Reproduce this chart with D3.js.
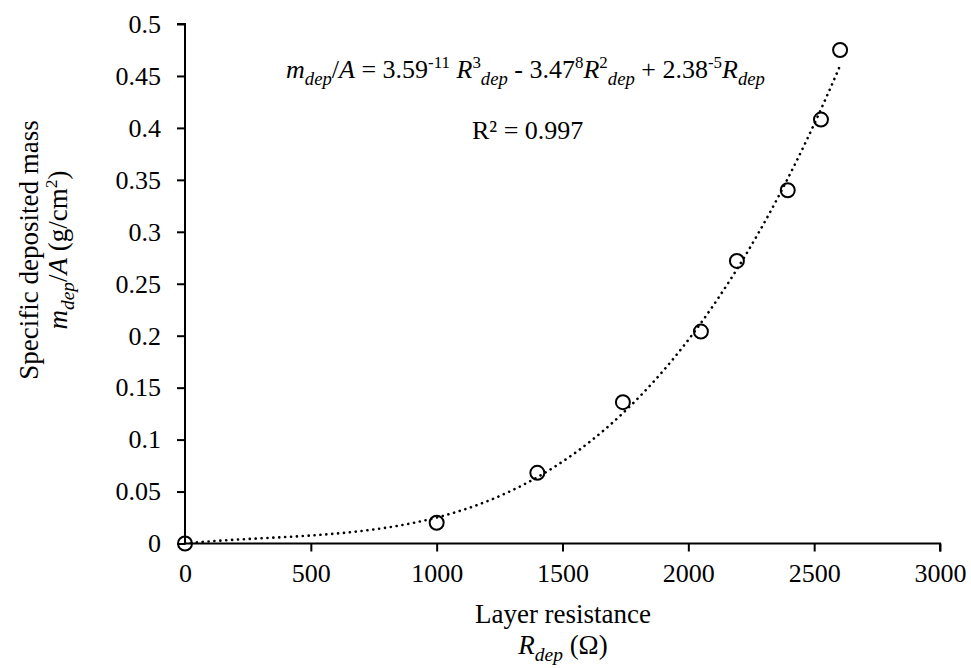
<!DOCTYPE html>
<html>
<head>
<meta charset="utf-8">
<script src="https://cdn.jsdelivr.net/npm/d3@7"></script>
<style>
  html, body { margin: 0; padding: 0; background: #fff; }
  svg { display: block; }
  svg text { font-family: "Liberation Serif", "Times New Roman", serif !important; fill: #000; }
</style>
</head>
<body>
<svg id="chart" width="971" height="668"></svg>
<script>
// ---- data ----
const resistance = [0, 1000, 1400, 1740, 2050, 2193, 2395, 2527, 2603];
const specificMass = [0, 0.02, 0.068, 0.136, 0.204, 0.272, 0.34, 0.408, 0.475];
const xTicks = [0, 500, 1000, 1500, 2000, 2500, 3000];
const yTicks = [0, 0.05, 0.1, 0.15, 0.2, 0.25, 0.3, 0.35, 0.4, 0.45, 0.5];
// cubic trendline coefficients (R^3, R^2, R^1)
const fitCoefficients = [3.59e-11, -3.47e-8, 2.38e-5];
const fitRange = [0, 2603];

const svg = d3.select("#chart");
const x = d3.scaleLinear().domain([0, 3000]).range([185, 940]);
const y = d3.scaleLinear().domain([0, 0.5]).range([543.5, 24]);

const tickFont = 26;
const serif = "Liberation Serif";

// axes
const xAxis = svg.append("g")
  .attr("transform", `translate(0,${y(0)})`)
  .call(d3.axisBottom(x).tickValues(xTicks).tickFormat(d3.format("d")).tickSize(8).tickPadding(12));
const yAxis = svg.append("g")
  .attr("transform", `translate(${x(0)},0)`)
  .call(d3.axisLeft(y).tickValues(yTicks).tickFormat(d => String(+d.toFixed(2))).tickSize(8).tickPadding(16));
[xAxis, yAxis].forEach(g => {
  g.attr("font-family", serif).attr("font-size", tickFont);
  g.select(".domain").attr("stroke", "#000").attr("stroke-width", 2);
  g.selectAll(".tick line").attr("stroke", "#000").attr("stroke-width", 2);
  g.selectAll(".tick text").attr("font-family", serif).attr("font-size", tickFont).attr("fill", "#000");
});
xAxis.select(".domain").attr("d", `M${x(0)},0H${x(3000)}V8`);
yAxis.select(".domain").attr("d", `M-8,${y(0.5)}H0V${y(0)}`);
xAxis.selectAll(".tick").filter(d => d === 0).select("line").remove();

// trendline
const fit = r => fitCoefficients[0] * r * r * r + fitCoefficients[1] * r * r + fitCoefficients[2] * r;
const fitPts = d3.range(fitRange[0], fitRange[1] + 1, 10).map(r => [r, fit(r)]);
svg.append("path")
  .datum(fitPts)
  .attr("fill", "none")
  .attr("stroke", "#000")
  .attr("stroke-width", 2.6)
  .attr("stroke-linecap", "round")
  .attr("stroke-dasharray", "0.1,5.8")
  .attr("d", d3.line().x(d => x(d[0])).y(d => y(d[1])));

// points
svg.append("g").selectAll("circle")
  .data(resistance.map((r, i) => [r, specificMass[i]]))
  .join("circle")
  .attr("cx", d => x(d[0]))
  .attr("cy", d => y(d[1]))
  .attr("r", 7)
  .attr("fill", "none")
  .attr("stroke", "#000")
  .attr("stroke-width", 2);

// helper for rich text
function rich(sel, parts, size) {
  let shift = 0;
  parts.forEach(p => {
    const t = sel.append("tspan").text(p.t);
    let target = 0, fs = size;
    if (p.sup) { target = -size * 0.38; fs = size * 0.65; }
    if (p.sub) { target = size * 0.25; fs = size * 0.72; }
    t.attr("dy", target - shift).style("font-size", fs + "px");
    if (p.i) t.style("font-style", "italic");
    shift = target;
  });
}

// equation
const eq = svg.append("text").attr("x", 286).attr("y", 78).style("font-size", "26px");
rich(eq, [
  {t: "m", i: 1}, {t: "dep", i: 1, sub: 1}, {t: "/"}, {t: "A", i: 1}, {t: " = 3.59"}, {t: "-11", sup: 1},
  {t: " "}, {t: "R", i: 1}, {t: "3", sup: 1}, {t: "dep", i: 1, sub: 1}, {t: " - 3.47"}, {t: "8", sup: 1},
  {t: "R", i: 1}, {t: "2", sup: 1}, {t: "dep", i: 1, sub: 1}, {t: " + 2.38"}, {t: "-5", sup: 1},
  {t: "R", i: 1}, {t: "dep", i: 1, sub: 1}
], 26);

svg.append("text").attr("x", 472).attr("y", 139).style("font-size", "26px").text("R² = 0.997");

// x title
svg.append("text").attr("x", 563).attr("y", 623).attr("text-anchor", "middle").style("font-size", "27px").text("Layer resistance");
const xt2 = svg.append("text").attr("x", 563).attr("y", 654).attr("text-anchor", "middle").style("font-size", "27px");
rich(xt2, [{t: "R", i: 1}, {t: "dep", i: 1, sub: 1}, {t: " (Ω)"}], 27);

// y title
const yt = svg.append("g").attr("transform", "translate(38,250) rotate(-90)");
yt.append("text").attr("x", 0).attr("y", 0).attr("text-anchor", "middle").style("font-size", "27px").text("Specific deposited mass");
const yt2 = yt.append("text").attr("x", 0).attr("y", 29).attr("text-anchor", "middle").style("font-size", "27px");
rich(yt2, [{t: "m", i: 1}, {t: "dep", i: 1, sub: 1}, {t: "/"}, {t: "A", i: 1}, {t: " (g/cm"}, {t: "2", sup: 1}, {t: ")"}], 27);
</script>
</body>
</html>
